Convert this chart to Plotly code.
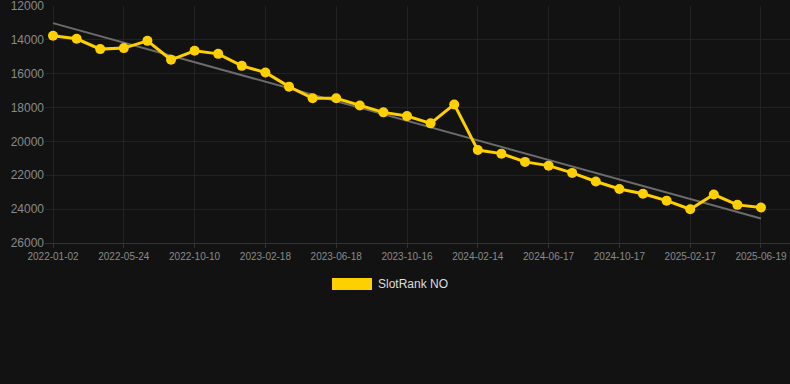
import numpy as np
import plotly.graph_objects as go

dates = [
    "2022-01-02", "2022-02-18", "2022-04-06", "2022-05-24", "2022-07-09", "2022-08-24",
    "2022-10-10", "2022-11-18", "2023-01-02", "2023-02-18", "2023-03-30", "2023-05-09",
    "2023-06-18", "2023-07-28", "2023-09-06", "2023-10-16", "2023-11-25", "2024-01-04",
    "2024-02-14", "2024-03-26", "2024-05-06", "2024-06-17", "2024-07-28", "2024-09-06",
    "2024-10-17", "2024-11-28", "2025-01-07", "2025-02-17", "2025-03-29", "2025-05-09",
    "2025-06-19",
]
rank = [
    13750, 13930, 14540, 14480, 14050, 15170, 14640, 14820, 15530, 15920, 16760,
    17450, 17450, 17870, 18280, 18500, 18930, 17810, 20510, 20720, 21210, 21430,
    21860, 22370, 22810, 23090, 23500, 24010, 23140, 23750, 23910,
]
tick_labels = dates[::3]
y_ticks = [12000, 14000, 16000, 18000, 20000, 22000, 24000, 26000]
series_name = "SlotRank NO"

gold = "#FFD000"
idx = np.arange(len(dates))
slope, intercept = np.polyfit(idx, rank, 1)
trend = slope * idx + intercept

fig = go.Figure()
fig.add_trace(go.Scatter(
    x=dates, y=trend, mode="lines",
    line=dict(color="#6b6b6b", width=2), hoverinfo="skip", showlegend=False,
))
fig.add_trace(go.Scatter(
    x=dates, y=rank, mode="lines+markers", name=series_name,
    line=dict(color=gold, width=3), marker=dict(color=gold, size=10),
    showlegend=False,
))

fig.update_layout(
    width=790, height=384,
    margin=dict(l=45, r=0, t=6, b=141),
    paper_bgcolor="#121212", plot_bgcolor="#121212",
    font=dict(family="Liberation Sans, Arial, sans-serif", color="#888888"),
    showlegend=False,
)
fig.update_xaxes(
    type="category", range=[-0.34, 31.23],
    tickmode="array", tickvals=tick_labels, ticktext=tick_labels,
    tickfont=dict(size=10, color="#8a8a8a"),
    showgrid=True, gridcolor="#222222", gridwidth=1,
    showline=True, linecolor="#333333", linewidth=1,
    ticks="outside", ticklen=4, tickcolor="#333333",
    zeroline=False,
)
fig.update_yaxes(
    range=[26005, 11990], tickvals=y_ticks,
    tickformat="d", ticklabeloverflow="allow",
    tickfont=dict(size=12, color="#8a8a8a"),
    showgrid=True, gridcolor="#222222", gridwidth=1,
    zeroline=False, showline=False, ticks="",
)

# custom legend
fig.add_shape(type="rect", xref="paper", yref="paper",
              x0=(332 - 45) / 745, x1=(372 - 45) / 745,
              y0=(384 - 141 - 290) / 237, y1=(384 - 141 - 278) / 237,
              fillcolor=gold, line=dict(width=0))
fig.add_annotation(xref="paper", yref="paper", x=(376 - 45) / 745,
                   y=(384 - 141 - 284) / 237, text=series_name, showarrow=False,
                   xanchor="left", yanchor="middle",
                   font=dict(size=12, color="#dddddd"))

fig.write_html(
    "out.html",
    config={"displayModeBar": False},
    post_script="document.body.style.margin='0';document.body.style.background='#121212';",
)
